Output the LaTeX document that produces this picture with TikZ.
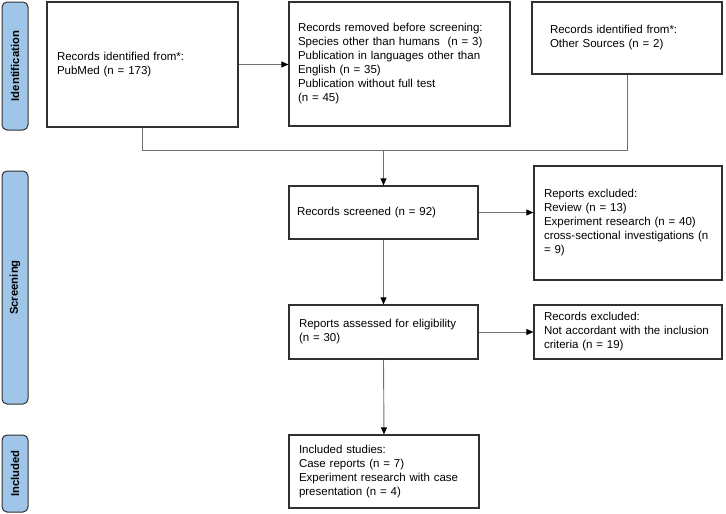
\documentclass[tikz,border=0pt]{standalone}
\usepackage{fontspec}
\setmainfont{Liberation Sans}
\usetikzlibrary{arrows.meta}
\definecolor{bandblue}{HTML}{9FC5E8}
\definecolor{boxline}{HTML}{303030}
\definecolor{conn}{HTML}{707070}
\tikzset{
  band/.style={draw=boxline, fill=bandblue, line width=1pt, rounded corners=5pt},
  bandlabel/.style={rotate=90, font=\fontsize{11.3}{13}\selectfont\bfseries, inner sep=0pt},
  flowbox/.style={draw=boxline, line width=1.2pt, align=left, inner ysep=0pt,
    font=\fontsize{11.5}{14}\selectfont, anchor=center},
  conline/.style={draw=conn, line width=0.9pt},
  conarrow/.style={conline, -{Triangle[length=7pt,width=6pt,fill=black,color=black]}}
}
\begin{document}
\begin{tikzpicture}[x=1pt,y=-1pt]
\useasboundingbox (0,0) rectangle (726,514);
% bands
\draw[band] (2,2) rectangle (28,130);
\node[bandlabel] (lid) at (15,66) {Identification};
\draw[band] (2,171) rectangle (28,404);
\node[bandlabel] (lsc) at (15,287.5) {Screening};
\draw[band] (2,435) rectangle (28,512);
\node[bandlabel] (lin) at (15,473.5) {Included};
% boxes
\node[flowbox, inner xsep=10pt, text width=171pt, minimum height=125pt] (b1) at (142.5,64.5)
  {Records identified from*:\\PubMed (n = 173)};
\node[flowbox, inner xsep=9pt, text width=203pt, minimum height=124pt] (b2) at (399.5,64)
  {Records removed before screening:\\Species other than humans\ \ (n = 3)\\Publication in languages other than\\English (n = 35)\\Publication without full test\\(n = 45)};
\node[flowbox, inner xsep=18pt, text width=154pt, minimum height=72pt] (b3) at (627,38)
  {Records identified from*:\\Other Sources (n = 2)};
\node[flowbox, inner xsep=8pt, text width=173pt, minimum height=53pt] (b4) at (383.5,212.5)
  {Records screened (n = 92)};
\node[flowbox, inner xsep=10pt, text width=168pt, minimum height=114pt] (b5) at (628,223)
  {Reports excluded:\\Review (n = 13)\\Experiment research (n = 40)\\cross-sectional investigations (n\\= 9)};
\node[flowbox, inner xsep=10pt, text width=169pt, minimum height=54pt] (b6) at (383.5,332)
  {Reports assessed for eligibility\\(n = 30)};
\node[flowbox, inner xsep=10pt, text width=168pt, minimum height=54pt] (b7) at (628,332)
  {Records excluded:\\Not accordant with the inclusion\\criteria (n = 19)};
\node[flowbox, inner xsep=10pt, text width=170pt, minimum height=73pt] (b8) at (384,471.5)
  {Included studies:\\Case reports (n = 7)\\Experiment research with case\\presentation (n = 4)};
% connectors
\coordinate (j1) at (142.5,150);
\coordinate (j2) at (627,150);
\coordinate (j3) at (383.5,150);
\draw[conline] (b1.south) -- (j1) -- (j2) -- (b3.south);
\draw[conarrow] (j3) -- (b4.north);
\draw[conarrow] (b1.east) -- (b1.east -| b2.west);
\draw[conarrow] (b4.east) -- (b4.east -| b5.west);
\draw[conarrow] (b4.south) -- (b6.north);
\draw[conarrow] (b6.east) -- (b7.west);
\draw[conarrow] (b6.south) -- (b8.north);
\end{tikzpicture}
\end{document}
